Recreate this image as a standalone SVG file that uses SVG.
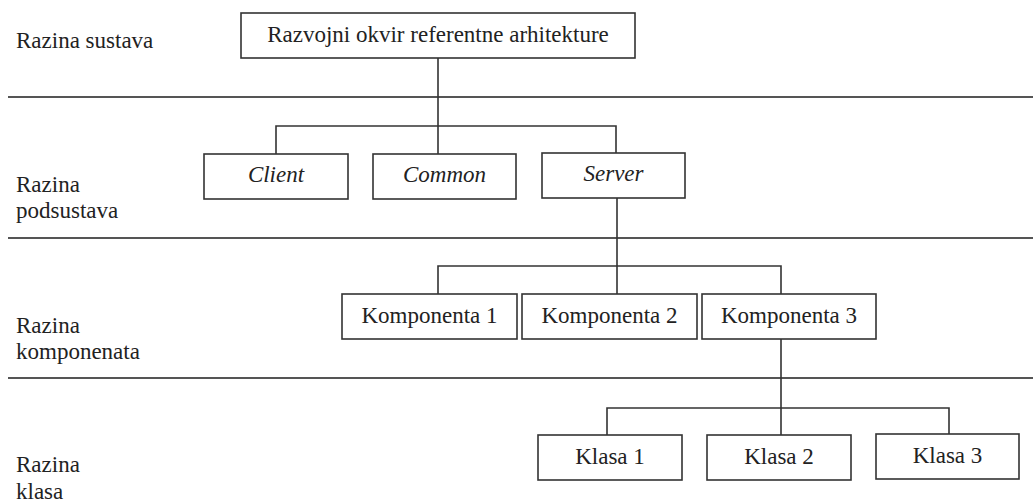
<svg xmlns="http://www.w3.org/2000/svg" width="1033" height="502" viewBox="0 0 1033 502">
<style>
text{font-family:"Liberation Serif","Times New Roman",serif;font-size:23px;fill:#222}
.box{fill:#fff;stroke:#333;stroke-width:1.6}
.c{text-anchor:middle}
.it{font-style:italic}
.sep{stroke:#555;stroke-width:2}
.con{stroke:#333;stroke-width:1.6;fill:none}
</style>
<rect width="1033" height="502" fill="#fff"/>
<g id="levels">
<text x="16" y="48">Razina sustava</text>
<text x="16" y="192">Razina</text>
<text x="16" y="218">podsustava</text>
<text x="16" y="333">Razina</text>
<text x="16" y="359">komponenata</text>
<text x="16" y="472">Razina</text>
<text x="16" y="499">klasa</text>
</g>
<g id="separators">
<line class="sep" x1="8" y1="97" x2="1033" y2="97"/>
<line class="sep" x1="8" y1="238" x2="1033" y2="238"/>
<line class="sep" x1="8" y1="378" x2="1033" y2="378"/>
</g>
<g id="connectors">
<path class="con" d="M438 58V154M276 154V126H616V153"/>
<path class="con" d="M617 198V294M438 294V266H781V294"/>
<path class="con" d="M781 339V435M607 435V408H949V434"/>
</g>
<g id="root"><rect class="box" x="241" y="13" width="394" height="45"/><text class="c" x="438" y="42">Razvojni okvir referentne arhitekture</text></g>
<g id="client"><rect class="box" x="204" y="154" width="144" height="45"/><text class="c it" x="276" y="182">Client</text></g>
<g id="common"><rect class="box" x="373" y="154" width="143" height="45"/><text class="c it" x="444.5" y="182">Common</text></g>
<g id="server"><rect class="box" x="542" y="153" width="143" height="45"/><text class="c it" x="613.5" y="181">Server</text></g>
<g id="komponenta1"><rect class="box" x="342" y="294" width="175" height="45"/><text class="c" x="429.5" y="323">Komponenta 1</text></g>
<g id="komponenta2"><rect class="box" x="522" y="294" width="175" height="45"/><text class="c" x="609.5" y="323">Komponenta 2</text></g>
<g id="komponenta3"><rect class="box" x="702" y="294" width="174" height="45"/><text class="c" x="789" y="323">Komponenta 3</text></g>
<g id="klasa1"><rect class="box" x="538" y="435" width="144" height="45"/><text class="c" x="610" y="464">Klasa 1</text></g>
<g id="klasa2"><rect class="box" x="707" y="435" width="144" height="45"/><text class="c" x="779" y="464">Klasa 2</text></g>
<g id="klasa3"><rect class="box" x="876" y="434" width="143" height="45"/><text class="c" x="947.5" y="463">Klasa 3</text></g>
</svg>
